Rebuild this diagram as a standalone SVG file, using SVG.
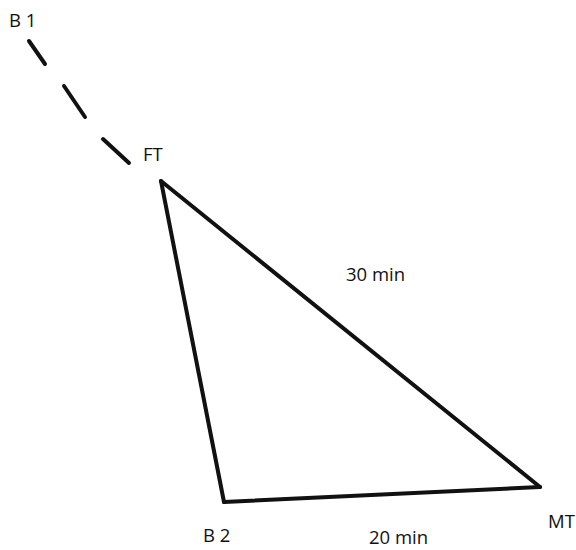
<svg xmlns="http://www.w3.org/2000/svg" width="576" height="550" viewBox="0 0 576 550">
<style>
.t{font-family:"Open Sans","Liberation Sans",sans-serif;font-size:18.5px;fill:#111}
.e{stroke:#111;stroke-width:4;fill:none;stroke-linecap:round;stroke-linejoin:round}
</style>
<rect width="576" height="550" fill="#fff"/>
<g id="connectors">
<line class="e" x1="29" y1="41" x2="45" y2="64"/>
<line class="e" x1="64" y1="86" x2="85" y2="117"/>
<line class="e" x1="103" y1="139" x2="129" y2="163"/>
<line class="e" x1="161" y1="181" x2="540" y2="487"/>
<line class="e" x1="161" y1="181" x2="224" y2="502"/>
<line class="e" x1="224" y1="502" x2="540" y2="487"/>
<text class="t" x="346" y="281">30 min</text>
<text class="t" x="369" y="544">20 min</text>
</g>
<g id="B1"><text class="t" x="9" y="27">B 1</text></g>
<g id="FT"><text class="t" x="143" y="161">FT</text></g>
<g id="B2"><text class="t" x="203" y="542">B 2</text></g>
<g id="MT"><text class="t" x="548" y="528">MT</text></g>
</svg>
